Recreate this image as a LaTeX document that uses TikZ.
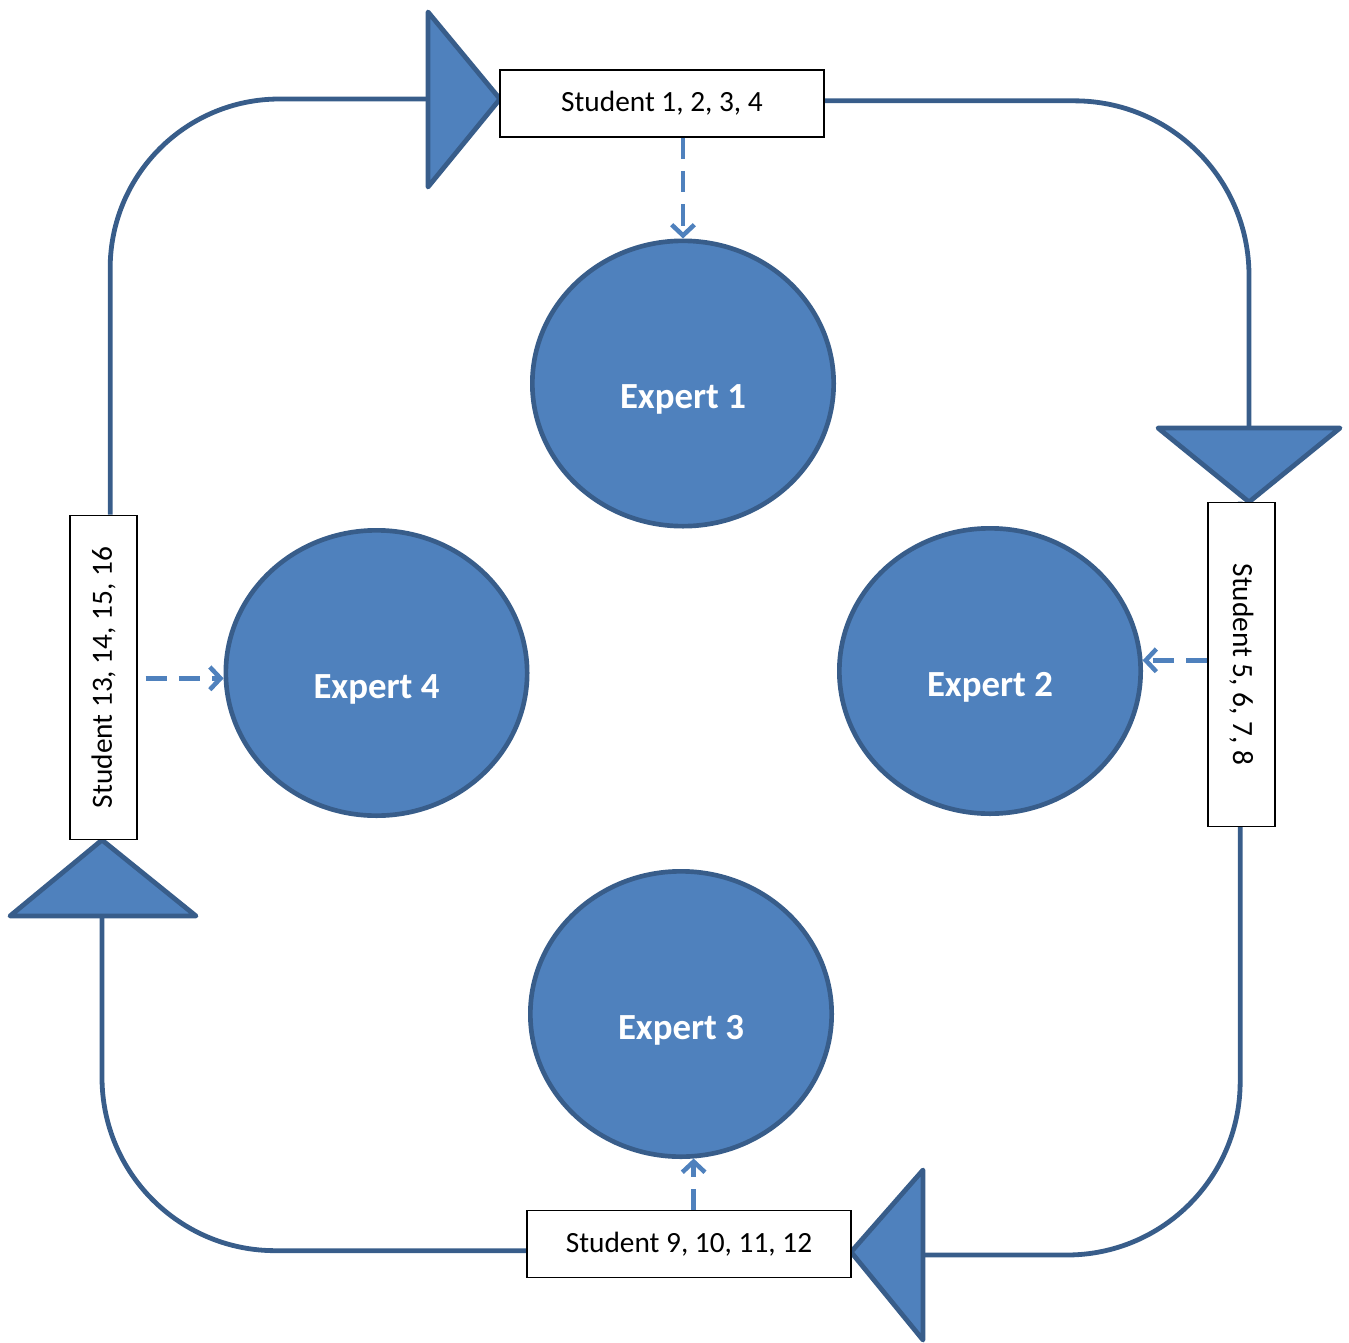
\documentclass[tikz,border=0pt]{standalone}
\usepackage{fontspec}
\setmainfont{Carlito}
\usetikzlibrary{shapes.geometric,arrows.meta}
\definecolor{ofblue}{HTML}{4F81BD}
\definecolor{ofdark}{HTML}{385D8A}
\tikzset{
  expert/.style={ellipse, draw=ofdark, fill=ofblue, line width=3.5pt,
    minimum width=226pt, minimum height=214pt, inner sep=0pt},
  elabel/.style={text=white, font=\fontsize{27.6}{32}\selectfont\bfseries, inner sep=0pt},
  stubox/.style={rectangle, draw=black, fill=white, line width=1.2pt,
    minimum width=243pt, minimum height=50pt, inner sep=0pt,
    font=\fontsize{22}{26}\selectfont},
  cycleline/.style={draw=ofdark, line width=3.6pt},
  tri/.style={draw=ofdark, fill=ofblue, line width=3.6pt, line join=round},
  dasharrow/.style={draw=ofblue, line width=3.4pt, dash pattern=on 16pt off 9pt,
    -{Straight Barb[length=8pt,width=17pt,line width=3.4pt]}}
}
\begin{document}
\begin{tikzpicture}[x=0.75pt,y=-0.75pt]
\useasboundingbox (0,0) rectangle (1349,1342);

% student boxes
\node[stubox] (s1) at (662,103.5) {Student 1, 2, 3, 4};
\node[stubox, rotate=-90] (s2) at (1241.5,664.5) {Student 5, 6, 7, 8};
\node[stubox] (s3) at (689,1244) {Student 9, 10, 11, 12};
\node[stubox, rotate=90] (s4) at (103.5,677.5) {Student 13, 14, 15, 16};

% triangle base midpoints
\coordinate (tA) at (428,99);
\coordinate (tB) at (1249,428);
\coordinate (tC) at (923,1255);
\coordinate (tD) at (102,916);

% cycle lines
\draw[cycleline, rounded corners=127pt] ([xshift=5pt]s4.east) |- (tA);
\draw[cycleline, rounded corners=131pt] ([yshift=2pt]s1.east) -| (tB);
\draw[cycleline, rounded corners=130pt] ([xshift=-1pt]s2.west) |- (tC);
\draw[cycleline, rounded corners=130pt] ([yshift=-5pt]s3.west) -| (tD);

% triangles
\filldraw[tri] (428,12) -- (428,187) -- (500,99) -- cycle;
\filldraw[tri] (1158,428) -- (1340,428) -- (1249,502) -- cycle;
\filldraw[tri] (923,1170) -- (923,1340) -- (851,1252) -- cycle;
\filldraw[tri] (10,916) -- (196,916) -- (102,840) -- cycle;

% redraw boxes on top of triangle tips
\node[stubox] at (s1) {Student 1, 2, 3, 4};
\node[stubox, rotate=-90] at (s2) {Student 5, 6, 7, 8};
\node[stubox] at (s3) {Student 9, 10, 11, 12};
\node[stubox, rotate=90] at (s4) {Student 13, 14, 15, 16};

% experts
\node[expert] (e1) at (683,383.5) {};
\node[expert] (e2) at (990,671) {};
\node[expert] (e3) at (681,1014) {};
\node[expert] (e4) at (376.5,673) {};
\node[elabel] (l1) at (683,399) {Expert 1};
\node[elabel] (l2) at (990,687) {Expert 2};
\node[elabel] (l3) at (681,1030) {Expert 3};
\node[elabel] (l4) at (376.5,689) {Expert 4};

% dashed arrows
\draw[dasharrow] (e1.north |- s1.south) -- (e1.north);
\draw[dasharrow] (e2.4 -| s2.south) -- (e2.4);
\draw[dasharrow] (e3.275 |- s3.north) -- (e3.275);
\draw[dasharrow] ([xshift=6pt]e4.182 -| s4.south) -- (e4.182);
\end{tikzpicture}
\end{document}
